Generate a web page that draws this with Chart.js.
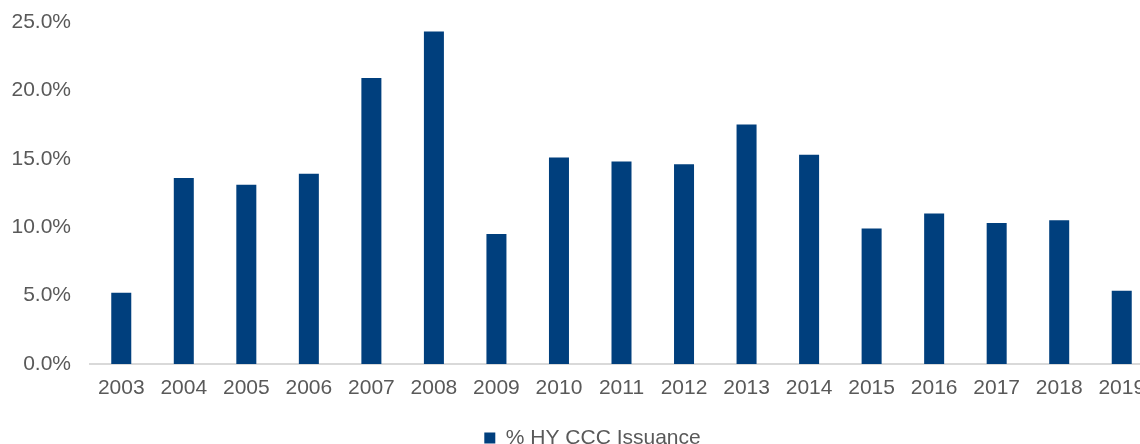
<!DOCTYPE html>
<html>
<head>
<meta charset="utf-8">
<script src="https://cdn.jsdelivr.net/npm/chart.js@4"></script>
<style>
  html, body { margin: 0; padding: 0; background: #fff; overflow: hidden; }
  #wrap { width: 1185px; height: 444px; }
</style>
</head>
<body>
<div id="wrap"><canvas id="chart"></canvas></div>
<script>
// values
const years = ["2003", "2004", "2005", "2006", "2007", "2008", "2009", "2010", "2011",
  "2012", "2013", "2014", "2015", "2016", "2017", "2018", "2019"];
const cccShare = [5.2, 13.6, 13.1, 13.9, 20.9, 24.3, 9.5, 15.1, 14.8,
  14.6, 17.5, 15.3, 9.9, 11.0, 10.3, 10.5, 5.35];
const yTicks = [0, 5, 10, 15, 20, 25];

const textColor = "#595959";
const barColor = "#003F7D";
const font = { family: "'Liberation Sans', Arial, sans-serif", size: 21 };

const ctx = document.getElementById("chart").getContext("2d");
new Chart(ctx, {
  type: "bar",
  data: {
    labels: years,
    datasets: [{
      label: "% HY CCC Issuance",
      data: cccShare,
      backgroundColor: barColor,
      barPercentage: 0.32,
      categoryPercentage: 1,
    }]
  },
  options: {
    responsive: true,
    maintainAspectRatio: false,
    animation: false,
    layout: { padding: { left: 0, top: 22, right: 0, bottom: -14.5 } },
    plugins: {
      tooltip: { enabled: false },
      legend: {
        position: "bottom",
        labels: { color: textColor, font: font, boxWidth: 11, boxHeight: 11, padding: 6 }
      }
    },
    scales: {
      x: {
        afterFit: (scale) => { scale.height = 57.5; },
        grid: { display: false },
        border: { color: "#d9d9d9", width: 2 },
        ticks: { color: textColor, font: font, padding: 4, maxRotation: 0, autoSkip: false }
      },
      y: {
        min: 0,
        max: 25,
        afterFit: (scale) => {
          scale.width = 90;
          scale.paddingTop = 0;
          scale.paddingBottom = 0;
        },
        afterBuildTicks: (scale) => { scale.ticks = yTicks.map(v => ({ value: v })); },
        grid: { display: false, drawTicks: false },
        border: { display: false },
        ticks: {
          color: textColor,
          font: font,
          padding: 19,
          callback: (v) => v.toFixed(1) + "%"
        }
      },
      // empty spacer on the right, so the plot runs past the window edge as in the reference
      spacer: {
        position: "right",
        afterFit: (scale) => {
          scale.width = 32;
          scale.paddingTop = 0;
          scale.paddingBottom = 0;
        },
        grid: { display: false, drawTicks: false },
        border: { display: false },
        ticks: { display: false }
      }
    }
  }
});
</script>
</body>
</html>
